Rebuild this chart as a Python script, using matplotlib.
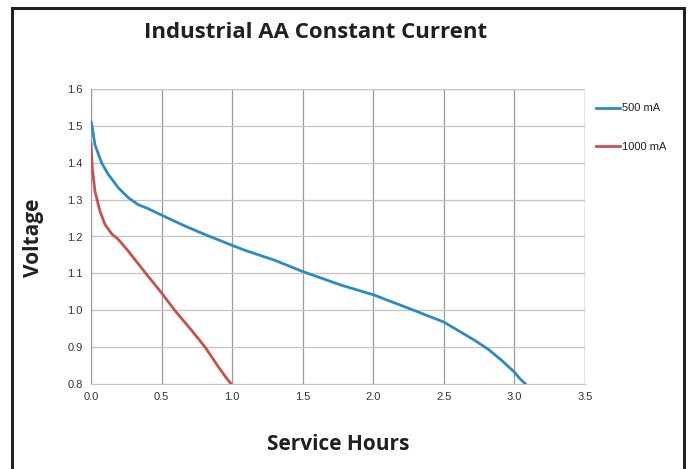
import matplotlib
matplotlib.use("Agg")
import matplotlib.pyplot as plt
from matplotlib.patches import Rectangle

# Data
hours_500 = [0.0, 0.005, 0.028, 0.076, 0.123, 0.194, 0.265, 0.336, 0.396, 0.5, 0.668, 0.81,
             1.0, 1.095, 1.299, 1.5, 1.773, 2.0, 2.246, 2.5, 2.72, 2.815, 2.91, 3.0, 3.04, 3.076, 3.085]
volt_500 = [1.512, 1.505, 1.449, 1.399, 1.368, 1.332, 1.305, 1.286, 1.277, 1.258, 1.228, 1.205,
            1.176, 1.162, 1.136, 1.105, 1.068, 1.042, 1.006, 0.968, 0.918, 0.894, 0.864, 0.832, 0.814, 0.801, 0.797]

hours_1000 = [0.0, 0.009, 0.028, 0.064, 0.1, 0.147, 0.194, 0.265, 0.384, 0.498, 0.597,
              0.716, 0.81, 0.905, 0.964, 1.0]
volt_1000 = [1.452, 1.386, 1.323, 1.268, 1.232, 1.207, 1.192, 1.160, 1.102, 1.048, 0.998,
             0.944, 0.899, 0.845, 0.814, 0.797]

series_labels = ["500 mA", "1000 mA"]
x_ticks = [0.0, 0.5, 1.0, 1.5, 2.0, 2.5, 3.0, 3.5]
y_ticks = [0.8, 0.9, 1.0, 1.1, 1.2, 1.3, 1.4, 1.5, 1.6]

fig = plt.figure(figsize=(6.94, 4.69), dpi=100)
ax = fig.add_axes([91/694, 1-384/469, (585-91)/694, (384-89)/469])

ax.plot(hours_500, volt_500, color="#2b8bc6", lw=2.0, label=series_labels[0],
        solid_joinstyle="round", zorder=3, clip_on=True)
ax.plot(hours_1000, volt_1000, color="#c9504e", lw=2.0, label=series_labels[1],
        solid_joinstyle="round", zorder=3, clip_on=True)

ax.set_xlim(0, 3.5)
ax.set_ylim(0.8, 1.6)
ax.set_xticks(x_ticks)
ax.set_yticks(y_ticks)
ax.set_xticklabels([f"{v:.1f}" for v in x_ticks])
ax.set_yticklabels([f"{v:.1f}" for v in y_ticks])
ax.tick_params(length=0, labelsize=8, labelcolor="#333333", pad=6)
for lab in ax.get_xticklabels() + ax.get_yticklabels():
    lab.set_family("Liberation Sans")
ax.grid(axis="x", color="#9a9a9a", lw=0.9)
ax.grid(axis="y", color="#c4c4c4", lw=0.9)
for s in ["top", "right"]:
    ax.spines[s].set_visible(False)
ax.spines["left"].set_color("#9a9a9a")
ax.spines["bottom"].set_color("#c4c4c4")
ax.axvline(3.5, color="#9a9a9a", lw=0.9)
ax.axhline(1.6, color="#c4c4c4", lw=0.9)

leg = ax.legend(loc="upper left", bbox_to_anchor=(1.002, 0.985), frameon=False,
                handlelength=2.2, handletextpad=0.1, labelspacing=2.6,
                prop={"family": "Liberation Sans", "size": 8})
for t in leg.get_texts():
    t.set_color("#222222")

fig.text(316/694, 1-33/469, "Industrial AA Constant Current", ha="center", va="center",
         fontsize=16, fontweight="bold", family="Open Sans", color="#231f20")
fig.text(338/694, 1-444/469, "Service Hours", ha="center", va="center",
         fontsize=15, fontweight="bold", family="Open Sans", color="#231f20")
fig.text(33/694, 1-238/469, "Voltage", ha="center", va="center", rotation=90,
         fontsize=15, fontweight="bold", family="Open Sans", color="#231f20")

fig.patches.append(Rectangle((12/694, -0.1), (684-12)/694, 1.1 - 8/469, transform=fig.transFigure,
                             fill=False, edgecolor="#222222", lw=2.2))

fig.savefig("out.png", dpi=100)
